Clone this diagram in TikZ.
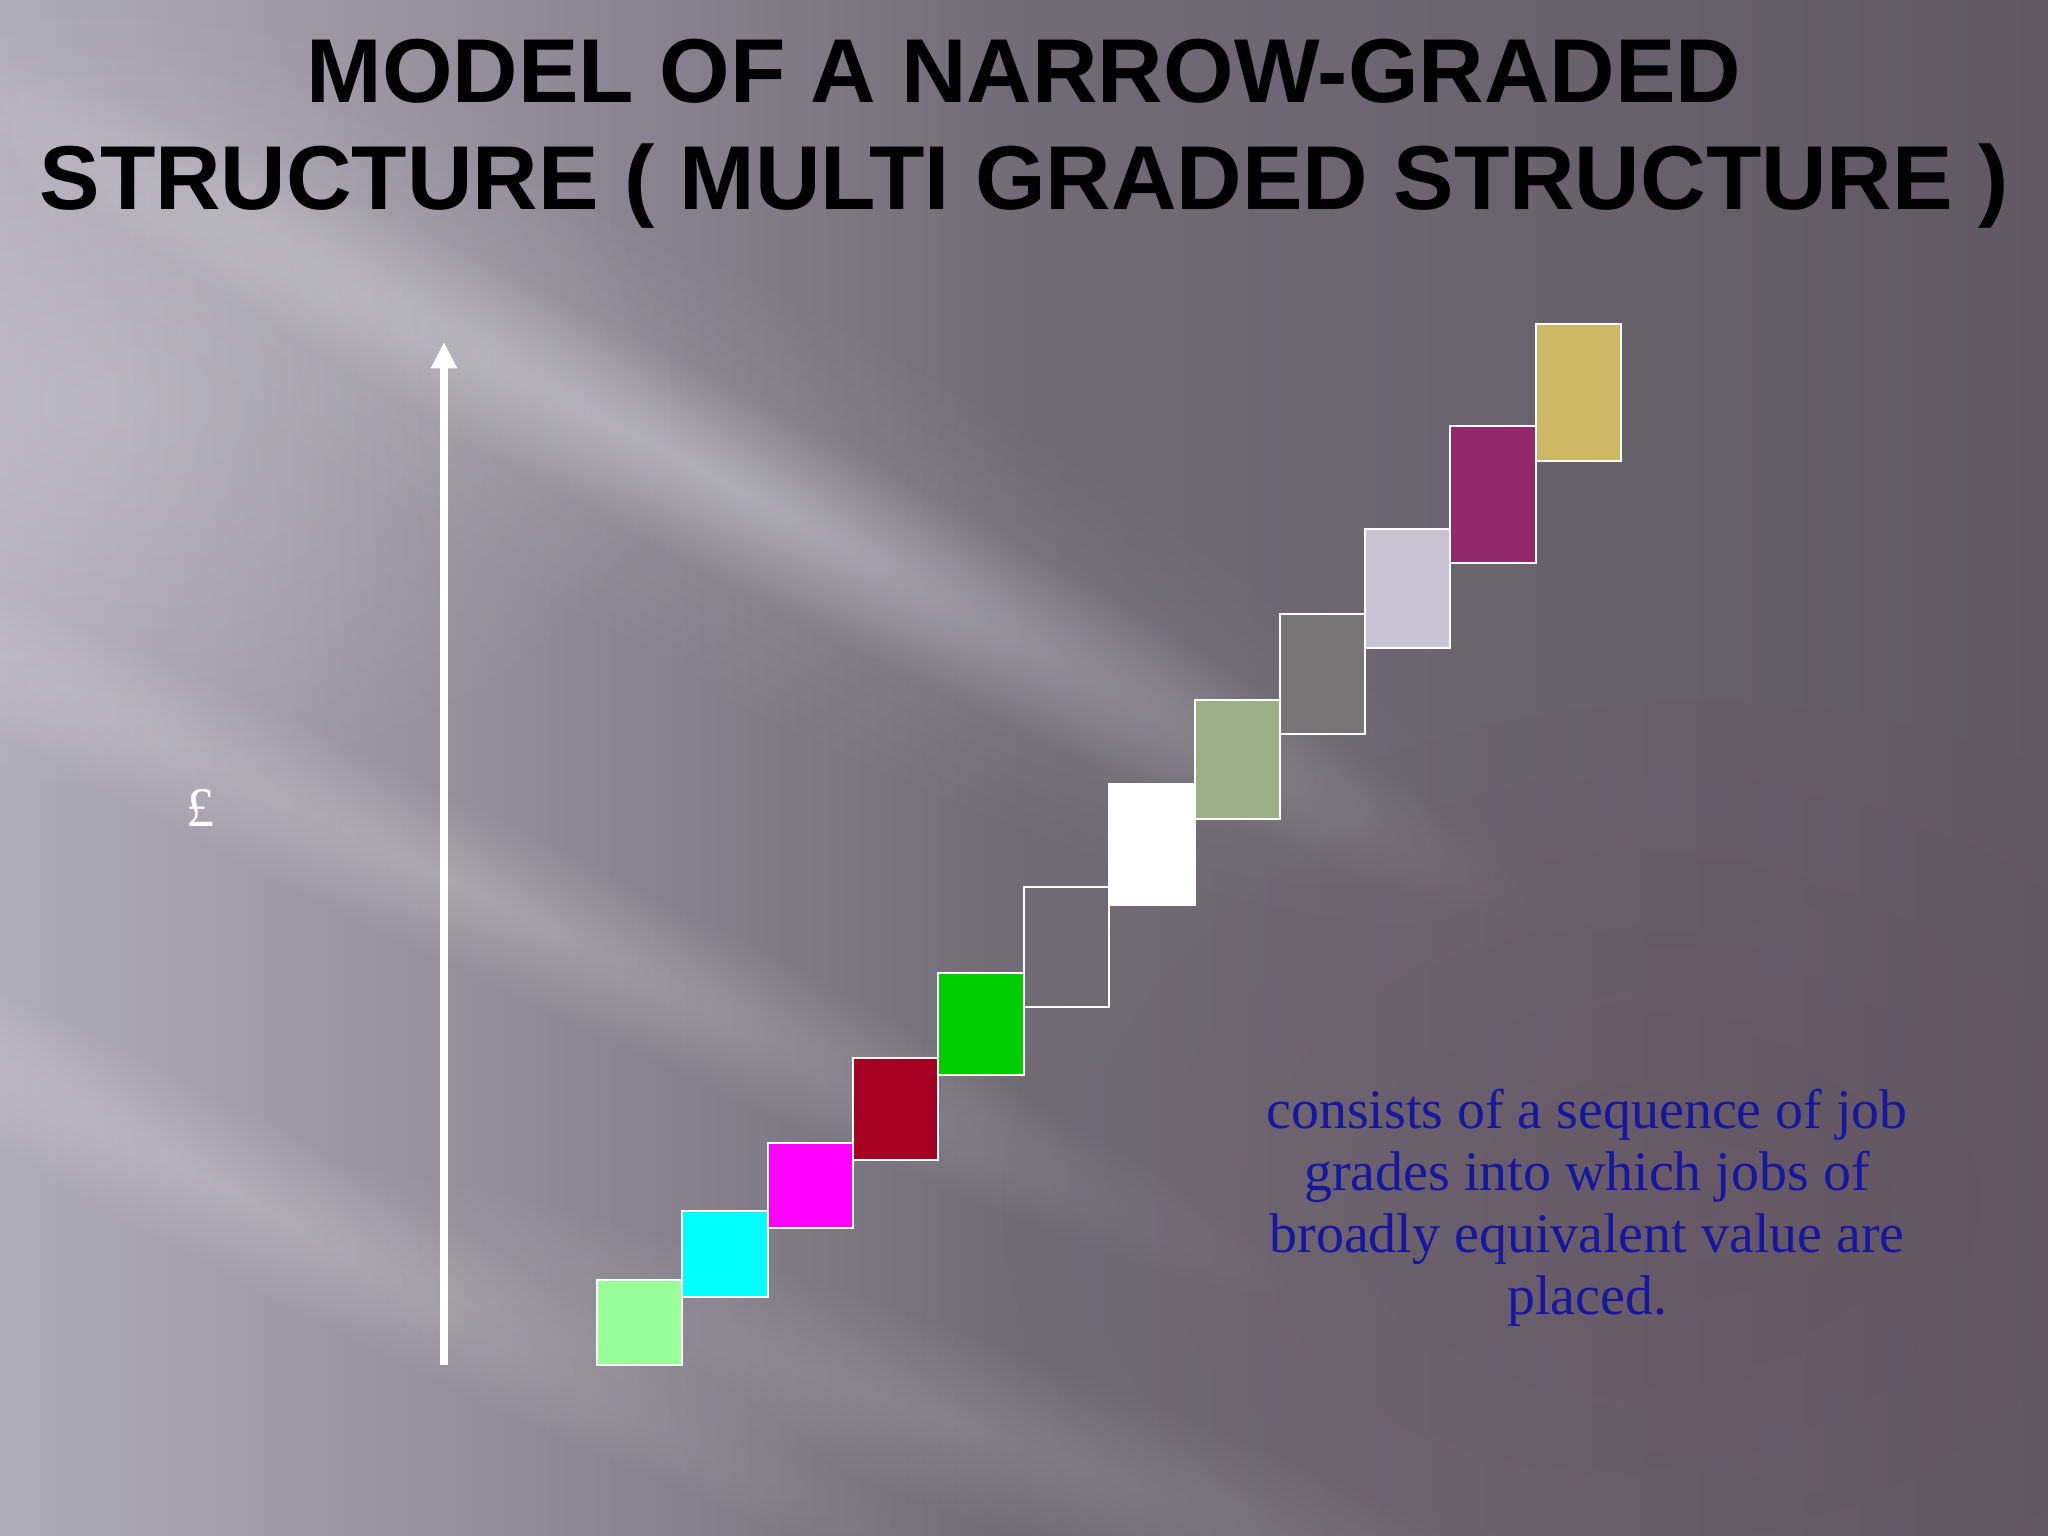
\documentclass[tikz,border=0pt]{standalone}
\usepackage{fontspec}
\usetikzlibrary{arrows.meta,fadings}
\newfontfamily\titlefont{Liberation Sans}
\newfontfamily\bodyfnt{Liberation Serif}
\definecolor{bgl}{RGB}{176,173,186}
\definecolor{bgm}{RGB}{112,108,118}
\definecolor{bgr}{RGB}{96,89,100}
\definecolor{tint}{RGB}{110,70,90}
\definecolor{txtblue}{RGB}{22,22,160}
\definecolor{cA}{HTML}{99FF99}
\definecolor{cB}{HTML}{00FFFF}
\definecolor{cC}{HTML}{FF00FF}
\definecolor{cD}{HTML}{A50021}
\definecolor{cE}{HTML}{00CC00}
\definecolor{cG}{HTML}{FFFFFF}
\definecolor{cH}{HTML}{9BB185}
\definecolor{cI}{HTML}{777576}
\definecolor{cJ}{HTML}{C8C4D4}
\definecolor{cK}{HTML}{93296B}
\definecolor{cL}{HTML}{CDB866}
\tikzfading[name=blobfade, inner color=transparent!0, outer color=transparent!100]
\tikzset{
  gradebox/.style={draw=white, line width=0.8pt},
  streak/.style={white, path fading=blobfade},
  titletext/.style={font=\titlefont\bfseries\fontsize{25.8}{30.3}\selectfont, text=black, inner sep=0pt, anchor=base},
  bodytext/.style={font=\bodyfnt\fontsize{15.9}{17.6}\selectfont, text=txtblue, align=center, inner sep=0pt},
  axisarrow/.style={white, line width=2.3pt, -{Triangle[width=7pt,length=7.5pt]}}
}
\begin{document}
\begin{tikzpicture}[x=0.01cm,y=-0.01cm]
\useasboundingbox (0,0) rectangle (2048,1536);
\clip (0,0) rectangle (2048,1536);
% background
\shade[left color=bgl, right color=bgr, middle color=bgm] (0,0) rectangle (2048,1536);
\fill[tint, path fading=blobfade, opacity=0.25] (1000,700) rectangle (2400,1700);
\fill[streak, opacity=0.18] (-500,0) rectangle (700,800);
\begin{scope}[transform canvas={rotate around={-28:(720,480)}}]
  \fill[streak, opacity=0.30] (-200,390) rectangle (1640,570);
  \fill[streak, opacity=0.10] (-200,280) rectangle (1640,680);
\end{scope}
\begin{scope}[transform canvas={rotate around={-26:(450,880)}}]
  \fill[streak, opacity=0.20] (-500,800) rectangle (1400,960);
\end{scope}
\begin{scope}[transform canvas={rotate around={-28:(250,1200)}}]
  \fill[streak, opacity=0.18] (-500,1120) rectangle (1000,1280);
\end{scope}
\begin{scope}[transform canvas={rotate around={-20:(950,1420)}}]
  \fill[streak, opacity=0.12] (200,1330) rectangle (1700,1510);
\end{scope}
% title
\node[titletext] (title1) at (1024,102) {MODEL OF A NARROW-GRADED};
\node[titletext] (title2) at (1024,209) {STRUCTURE ( MULTI GRADED STRUCTURE )};
% axis
\coordinate (abot) at (444,1365);
\coordinate (atop) at (444,342);
\draw[axisarrow] (abot) -- (atop);
\node[font=\bodyfnt\fontsize{15.9}{17.6}\selectfont, text=white, inner sep=0pt, anchor=base] (pound) at (200,826) {£};
% grade boxes
\path[gradebox, fill=cA] (597,1280) rectangle (682,1365);
\path[gradebox, fill=cB] (682,1211) rectangle (768,1297);
\path[gradebox, fill=cC] (768,1143) rectangle (853,1228);
\path[gradebox, fill=cD] (853,1058) rectangle (938,1160);
\path[gradebox, fill=cE] (938,973) rectangle (1024,1075);
\path[gradebox] (1024,887) rectangle (1109,1007);
\path[gradebox, fill=cG] (1109,784) rectangle (1195,905);
\path[gradebox, fill=cH] (1195,700) rectangle (1280,819);
\path[gradebox, fill=cI] (1280,614) rectangle (1365,734);
\path[gradebox, fill=cJ] (1365,529) rectangle (1450,648);
\path[gradebox, fill=cK] (1450,426) rectangle (1536,563);
\path[gradebox, fill=cL] (1536,324) rectangle (1621,461);
% description
\node[bodytext] (desc) at (1587,1208) {consists of a sequence of job\\grades into which jobs of\\broadly equivalent value are\\placed.};
\end{tikzpicture}
\end{document}
